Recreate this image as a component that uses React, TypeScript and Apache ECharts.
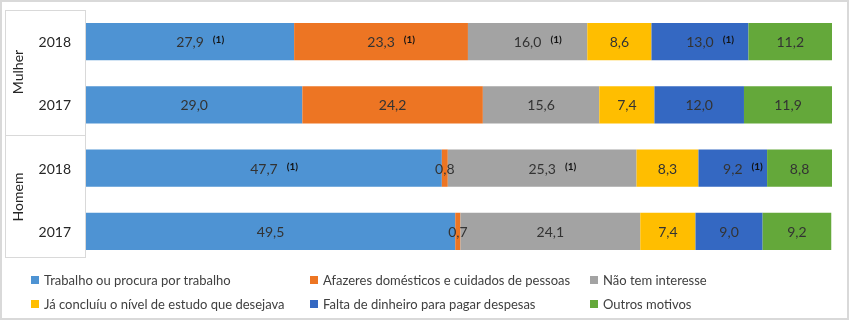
import React, { useEffect, useRef } from "react";
import * as echarts from "echarts";

const categories = ["Mulher 2018", "Mulher 2017", "Homem 2018", "Homem 2017"];
const groups = ["Mulher", "Homem"];
const seriesNames = [
  "Trabalho ou procura por trabalho",
  "Afazeres domésticos e cuidados de pessoas",
  "Não tem interesse",
  "Já concluíu o nível de estudo que desejava",
  "Falta de dinheiro para pagar despesas",
  "Outros motivos",
];
const trabalho = [27.9, 29.0, 47.7, 49.5];
const afazeres = [23.3, 24.2, 0.8, 0.7];
const naoInteresse = [16.0, 15.6, 25.3, 24.1];
const concluiu = [8.6, 7.4, 8.3, 7.4];
const faltaDinheiro = [13.0, 12.0, 9.2, 9.0];
const outros = [11.2, 11.9, 8.8, 9.2];
// "(1)" footnote markers per series (true where the marker appears)
const noteTrabalho = [true, false, true, false];
const noteAfazeres = [true, false, false, false];
const noteNaoInteresse = [true, false, true, false];
const noteConcluiu = [false, false, false, false];
const noteFalta = [true, false, true, false];
const noteOutros = [false, false, false, false];
const noteText = "(1)";

const colors = ["#4E93D3", "#ED7523", "#A3A3A3", "#FFBE00", "#3468C2", "#64A83A"];
const FONT = "Lato, 'Open Sans', sans-serif";

export default function App() {
  const ref = useRef<HTMLDivElement>(null);
  useEffect(() => {
    document.body.style.margin = "0";
    const chart = echarts.init(ref.current!, null, { renderer: "svg" });
    const values = [trabalho, afazeres, naoInteresse, concluiu, faltaDinheiro, outros];
    const notes = [noteTrabalho, noteAfazeres, noteNaoInteresse, noteConcluiu, noteFalta, noteOutros];
    const fmt = (v: number) => v.toFixed(1).replace(".", ",");
    const series = values.map((vals, si) => ({
      name: seriesNames[si],
      type: "bar",
      stack: "total",
      barCategoryGap: "41%",
      itemStyle: { color: colors[si] },
      emphasis: { disabled: true },
      data: vals.map((v, i) => ({
        value: v,
        label: {
          formatter: notes[si][i]
            ? `{pad|${noteText}}{g| }{v|${fmt(v)}}{g| }{n|${noteText}}`
            : `{v|${fmt(v)}}`,
        },
      })),
      label: {
        show: true,
        position: "inside",
        rich: {
          v: { fontFamily: FONT, fontSize: 14, color: "#333333" },
          n: { fontFamily: FONT, fontSize: 10, fontWeight: "bold", color: "#111111", padding: [0, 0, 5, 0] },
          pad: { fontFamily: FONT, fontSize: 10, fontWeight: "bold", color: "transparent", padding: [0, 0, 5, 0] },
          g: { fontSize: 9, width: 9 },
        },
      },
    }));

    const legendCol = (left: number, data: string[]) => ({
      orient: "vertical",
      left,
      top: 267,
      itemWidth: 8,
      itemHeight: 8,
      itemGap: 8,
      itemTextGap: 3,
      icon: "rect",
      selectedMode: false,
      textStyle: { fontFamily: FONT, fontSize: 13, color: "#404040", lineHeight: 16 },
      data,
    });

    const lineStyle = { stroke: "#D9D9D9", lineWidth: 1 };
    chart.setOption({
      animation: false,
      grid: { left: 86, right: 18, top: 10, bottom: 58 },
      xAxis: { type: "value", min: 0, max: 100, show: false },
      yAxis: {
        type: "category",
        data: categories,
        inverse: true,
        axisLine: { show: false },
        axisTick: { show: false },
        axisLabel: {
          margin: 15,
          fontFamily: FONT,
          fontSize: 14,
          color: "#262626",
          formatter: (c: string) => c.split(" ")[1],
        },
      },
      legend: [
        legendCol(26, [seriesNames[0], seriesNames[3]]),
        legendCol(305, [seriesNames[1], seriesNames[4]]),
        legendCol(585, [seriesNames[2], seriesNames[5]]),
      ],
      series,
      graphic: [
        { type: "rect", shape: { x: 1, y: 1, width: 847, height: 318 }, style: { fill: "none", stroke: "#D9D9D9", lineWidth: 2 }, silent: true },
        { type: "line", shape: { x1: 5, y1: 10.5, x2: 85, y2: 10.5 }, style: lineStyle },
        { type: "line", shape: { x1: 5, y1: 135.5, x2: 85, y2: 135.5 }, style: lineStyle },
        { type: "line", shape: { x1: 5, y1: 257.5, x2: 85, y2: 257.5 }, style: lineStyle },
        { type: "line", shape: { x1: 5.5, y1: 10, x2: 5.5, y2: 258 }, style: lineStyle },
        { type: "line", shape: { x1: 85.5, y1: 10, x2: 85.5, y2: 258 }, style: lineStyle },
        {
          type: "text", x: 17, y: 72, rotation: Math.PI / 2,
          style: { text: groups[0], fontFamily: FONT, fontSize: 14, fill: "#262626", align: "center", verticalAlign: "middle" },
        },
        {
          type: "text", x: 17, y: 197, rotation: Math.PI / 2,
          style: { text: groups[1], fontFamily: FONT, fontSize: 14, fill: "#262626", align: "center", verticalAlign: "middle" },
        },
      ],
    });
    return () => chart.dispose();
  }, []);
  return <div ref={ref} style={{ width: 850, height: 321, position: "fixed", left: 0, top: 0 }} />;
}
